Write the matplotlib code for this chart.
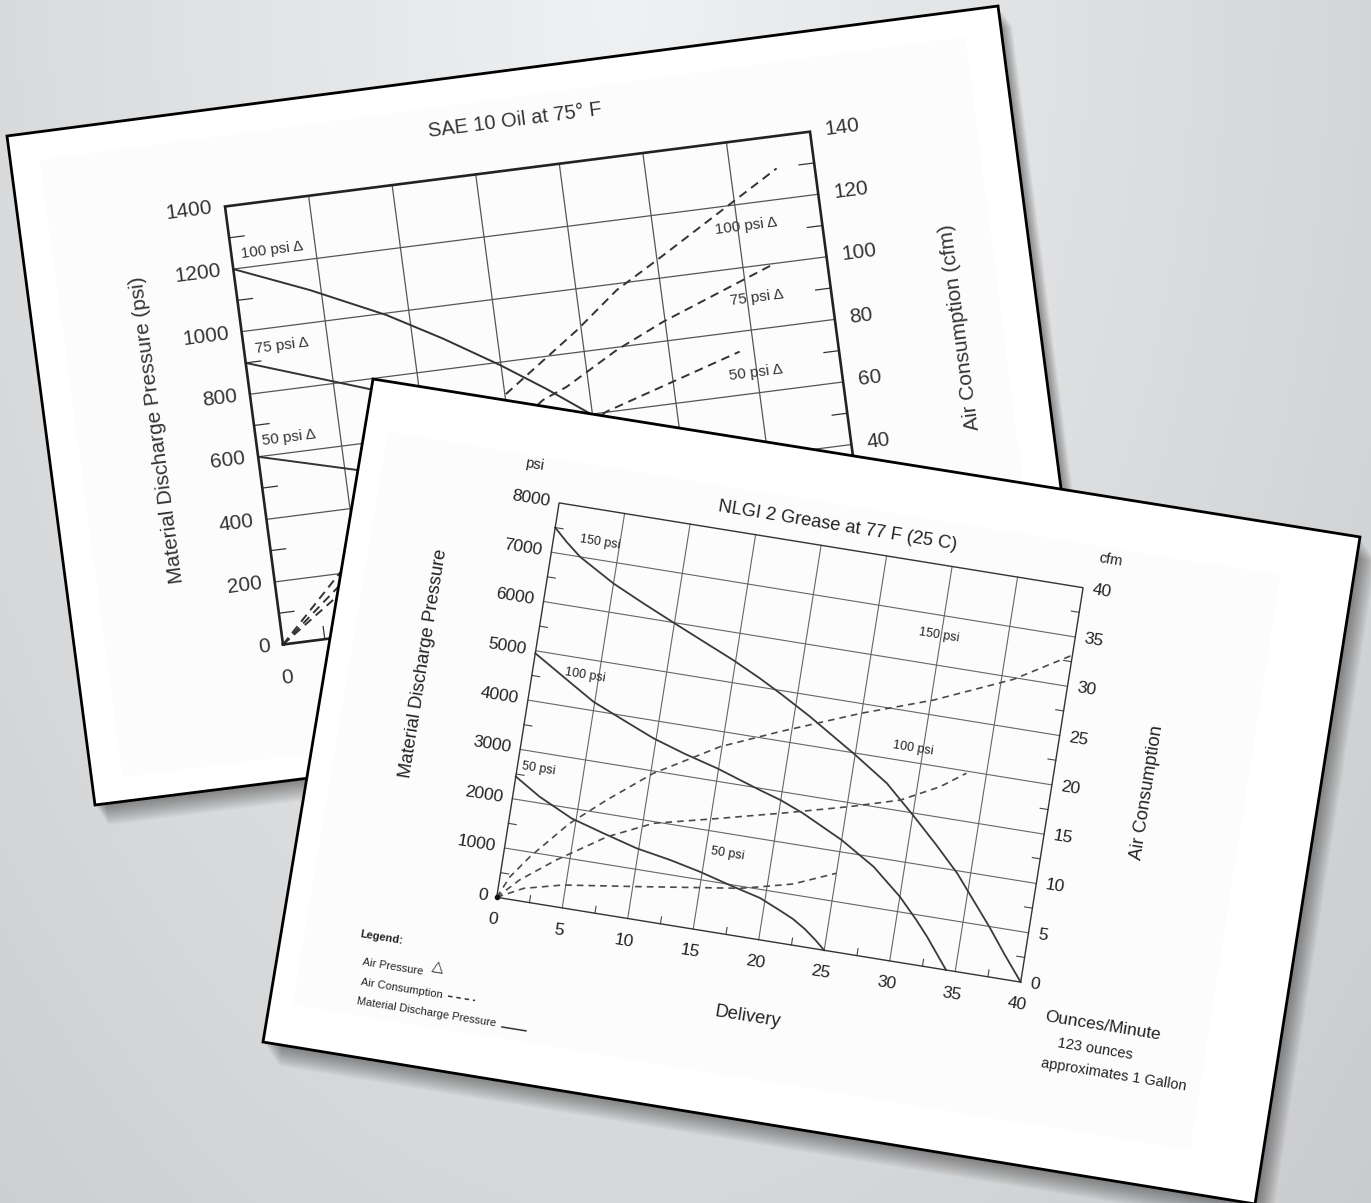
import numpy as np
import matplotlib

matplotlib.use('Agg')

import matplotlib.pyplot as plt
from matplotlib.patches import Polygon
from matplotlib.transforms import Affine2D

plt.rcParams['font.family'] = ['Liberation Sans', 'DejaVu Sans']

W, H = 1371, 1203

# ---- back sheet: SAE 10 Oil at 75° F  (left axis psi, right axis cfm = psi / 10)
oil_x_ticks = [0, 1, 2, 3, 4, 5, 6, 7]
oil_x_labels = ['0']
oil_psi_ticks = [0, 200, 400, 600, 800, 1000, 1200, 1400]
oil_cfm_ticks = [0, 20, 40, 60, 80, 100, 120, 140]

oil_mdp_100_x = [0, 0.87, 1.73, 2.36, 2.99, 3.5, 3.97]
oil_mdp_100_y = [1200, 1103, 994, 897, 791, 697, 603]
oil_mdp_75_x = [0, 1.46]
oil_mdp_75_y = [900, 764]
oil_mdp_50_x = [0, 1.14]
oil_mdp_50_y = [600, 519]

oil_air_100_x = [0, 0.78, 3.0, 3.95, 4.48, 5.0, 6.55]
oil_air_100_y = [0, 202, 695, 870, 980, 1058, 1298]
oil_air_75_x = [0, 0.74, 3.44, 3.74, 4.39, 4.98, 6.34]
oil_air_75_y = [0, 159, 664, 696, 792, 862, 996]
oil_air_50_x = [0, 0.66, 4.17, 5.83]
oil_air_50_y = [0, 120, 602, 737]

# ---- front sheet: NLGI 2 Grease at 77 F (25 C)  (left axis psi, right axis cfm = psi / 200)
grease_x_ticks = [0, 5, 10, 15, 20, 25, 30, 35, 40]
grease_psi_ticks = [0, 1000, 2000, 3000, 4000, 5000, 6000, 7000, 8000]
grease_cfm_ticks = [0, 5, 10, 15, 20, 25, 30, 35, 40]

grease_mdp_150_x = [0, 1.0, 2.2, 5, 7.45, 10, 12.6, 14.8, 17, 18.7, 21.2, 25, 27.7, 30, 32.1, 34, 35.5, 37, 38.5, 40]
grease_mdp_150_y = [7500, 7257, 7000, 6580, 6284, 5990, 5696, 5450, 5174, 4941, 4575, 3966, 3503, 2961, 2443, 1947, 1472, 998, 486, 0]
grease_mdp_100_x = [0, 2.36, 4.9, 7.33, 9.8, 12.3, 14.9, 18.3, 20, 21.8, 25, 27.7, 30, 31.5, 32.5, 34.3]
grease_mdp_100_y = [4950, 4576, 4177, 3912, 3646, 3440, 3256, 2965, 2830, 2643, 2237, 1810, 1303, 895, 597, 0]
grease_mdp_50_x = [0, 2, 4.65, 7.2, 9.84, 12.5, 14.8, 17.5, 19.6, 21.2, 22.3, 23.3, 24.2, 25]
grease_mdp_50_y = [2450, 2128, 1800, 1607, 1417, 1292, 1157, 967, 830, 650, 520, 360, 180, 0]

grease_air_150_x = [0, 0.75, 2, 4.5, 7.04, 10.2, 14.85, 19.1, 24.9, 30.2, 35.9, 40]
grease_air_150_y = [0, 450, 910, 1680, 2276, 2953, 3693, 4180, 4800, 5300, 5965, 6632]
grease_air_100_x = [0, 1.5, 4, 7.5, 10.8, 15.7, 18.6, 20.1, 25.2, 28.9, 31.7, 33.5]
grease_air_100_y = [0, 417, 930, 1550, 1965, 2277, 2470, 2567, 2923, 3215, 3606, 3957]
grease_air_50_x = [0, 1.9, 4.8, 10.5, 18, 19.5, 21.9, 25]
grease_air_50_y = [0, 263, 456, 668, 957, 1052, 1212, 1563]

# sheet outlines in picture pixels
back_sheet = [(7, 136), (998, 6), (1086, 680), (95, 805)]
back_inner = [(40, 160), (965, 37), (1046, 661), (123, 777)]
front_sheet = [(373, 379), (1360, 537), (1255, 1204), (263, 1042)]
front_inner = [(388, 432), (1280, 575), (1190, 1150), (293, 1005)]

fig = plt.figure(figsize=(W / 100, H / 100), dpi=100)
ax = fig.add_axes([0, 0, 1, 1])
ax.set_autoscale_on(False)
ax.set_xlim(0, W)
ax.set_ylim(H, 0)
ax.axis('off')

# grey studio backdrop
yy, xx = np.mgrid[0:H:4, 0:W:4]
dist = np.sqrt(((xx - 620) / 820.0) ** 2 + (yy / 1400.0) ** 2)
shade = np.clip(241 - 30 * dist, 200, 245) / 255.0
backdrop = np.clip(np.dstack([shade - 0.004, shade, shade + 0.006]), 0, 1)
ax.imshow(backdrop, extent=(0, W, H, 0), zorder=0, interpolation='bilinear', aspect='auto')


def sheet(corners, inner, shadow, z):
    pts = np.array(corners, float)
    for t in np.linspace(1.0, 0.08, 14):
        ax.add_patch(Polygon(pts + [shadow[0] * t, shadow[1] * t], closed=True,
                             facecolor='black', edgecolor='none', alpha=0.03, zorder=z))
    ax.add_patch(Polygon(pts, closed=True, facecolor='white', edgecolor='none', zorder=z + 0.1))
    ax.add_patch(Polygon(inner, closed=True, facecolor='#fcfcfc', edgecolor='none', zorder=z + 0.2))
    ax.add_patch(Polygon(pts, closed=True, facecolor='none', edgecolor='black', lw=2.0,
                         joinstyle='miter', zorder=z + 0.3))


def chart_transform(origin, ex, ey):
    m = np.array([[ex[0], ey[0], origin[0]],
                  [ex[1], ey[1], origin[1]],
                  [0.0, 0.0, 1.0]])
    return Affine2D(m) + ax.transData


def put(tr, x, y, s, z, **kw):
    ax.text(x, y, s, transform=tr, transform_rotates_text=True, rotation_mode='anchor', zorder=z, **kw)


# ================= back sheet =================
sheet(back_sheet, back_inner, (14, 20), 1)
tr = chart_transform((283, 644.5), (83.57, -10.69), (-0.04143, -0.31286))
zb = 3
xmax, ymax = oil_x_ticks[-1], oil_psi_ticks[-1]
for xv in oil_x_ticks[1:-1]:
    ax.plot([xv, xv], [0, ymax], transform=tr, color='#555555', lw=0.9, zorder=zb)
for yv in oil_psi_ticks[1:-1]:
    ax.plot([0, xmax], [yv, yv], transform=tr, color='#555555', lw=0.9, zorder=zb)
ax.plot([0, xmax, xmax, 0, 0], [0, 0, ymax, ymax, 0], transform=tr, color='#222222',
        lw=1.9, solid_joinstyle='miter', zorder=zb + 0.2)
for yv in oil_psi_ticks[:-1]:
    ax.plot([0, 0.18], [yv + 100, yv + 100], transform=tr, color='#333333', lw=0.9, zorder=zb)
    ax.plot([xmax, xmax - 0.18], [yv + 100, yv + 100], transform=tr, color='#333333', lw=0.9, zorder=zb)
for xv in oil_x_ticks[:-1]:
    ax.plot([xv + 0.5, xv + 0.5], [0, 40], transform=tr, color='#333333', lw=0.9, zorder=zb)

for xs, ys in [(oil_mdp_100_x, oil_mdp_100_y), (oil_mdp_75_x, oil_mdp_75_y), (oil_mdp_50_x, oil_mdp_50_y)]:
    ax.plot(xs, ys, transform=tr, color='#333333', lw=1.4, zorder=zb + 0.1)
for xs, ys in [(oil_air_100_x, oil_air_100_y), (oil_air_75_x, oil_air_75_y), (oil_air_50_x, oil_air_50_y)]:
    ax.plot(xs, ys, transform=tr, color='#333333', lw=1.4, dashes=(4.5, 3), zorder=zb + 0.1)

tc = '#333333'
for v in oil_psi_ticks:
    put(tr, -0.15, v, str(v), zb + 0.5, ha='right', va='center', fontsize=15, color=tc)
for v in oil_cfm_ticks:
    put(tr, 7.18, v * 10, str(v), zb + 0.5, ha='left', va='center', fontsize=15, color=tc)
for i, s in enumerate(oil_x_labels):
    put(tr, oil_x_ticks[i], -106, s, zb + 0.5, ha='center', va='center', fontsize=15, color=tc)
put(tr, 3.55, 1555, 'SAE 10 Oil at 75° F', zb + 0.5, ha='center', va='center', fontsize=14.5, color=tc)
put(tr, -1.15, 725, 'Material Discharge Pressure (psi)', zb + 0.5, rotation=90,
    ha='center', va='center', fontsize=15, color=tc)
put(tr, 8.46, 726, 'Air Consumption (cfm)', zb + 0.5, rotation=90,
    ha='center', va='center', fontsize=15, color=tc)
for x, y, s in [(0.485, 1244, '100 psi Δ'), (0.454, 939, '75 psi Δ'), (0.393, 647, '50 psi Δ'),
                (6.1, 1129, '100 psi Δ'), (6.12, 899, '75 psi Δ'), (5.99, 663, '50 psi Δ')]:
    put(tr, x, y, s, zb + 0.5, ha='center', va='center', fontsize=11, color=tc)

# ================= front sheet =================
sheet(front_sheet, front_inner, (16, 24), 4)
tr = chart_transform((496.7, 897.3), (13.1, 2.12), (0.0078, -0.0493))
zf = 6
xmax, ymax = grease_x_ticks[-1], grease_psi_ticks[-1]
for xv in grease_x_ticks[1:-1]:
    ax.plot([xv, xv], [0, ymax], transform=tr, color='#666666', lw=0.8, zorder=zf)
for yv in grease_psi_ticks[1:-1]:
    ax.plot([0, xmax], [yv, yv], transform=tr, color='#666666', lw=0.8, zorder=zf)
ax.plot([0, xmax, xmax, 0, 0], [0, 0, ymax, ymax, 0], transform=tr, color='#333333',
        lw=1.0, solid_joinstyle='miter', zorder=zf + 0.2)
for yv in grease_psi_ticks[:-1]:
    ax.plot([0, 0.6], [yv + 500, yv + 500], transform=tr, color='#444444', lw=0.8, zorder=zf)
    ax.plot([xmax, xmax - 0.6], [yv + 500, yv + 500], transform=tr, color='#444444', lw=0.8, zorder=zf)
for xv in grease_x_ticks[:-1]:
    ax.plot([xv + 2.5, xv + 2.5], [0, 140], transform=tr, color='#444444', lw=0.8, zorder=zf)
ax.plot([0], [0], 'o', ms=3, color='#111111', transform=tr, zorder=zf + 0.3)

for xs, ys in [(grease_mdp_150_x, grease_mdp_150_y), (grease_mdp_100_x, grease_mdp_100_y),
               (grease_mdp_50_x, grease_mdp_50_y)]:
    ax.plot(xs, ys, transform=tr, color='#3a3a3a', lw=1.3, zorder=zf + 0.1)
for xs, ys in [(grease_air_150_x, grease_air_150_y), (grease_air_100_x, grease_air_100_y),
               (grease_air_50_x, grease_air_50_y)]:
    ax.plot(xs, ys, transform=tr, color='#4a4a4a', lw=1.2, dashes=(4, 3), zorder=zf + 0.1)

tc = '#222222'
for v in grease_psi_ticks:
    put(tr, -0.7, v, str(v), zf + 0.5, ha='right', va='center', fontsize=12.5, color=tc)
for v in grease_cfm_ticks:
    put(tr, 40.7, v * 200, str(v), zf + 0.5, ha='left', va='center', fontsize=12.5, color=tc)
for v in grease_x_ticks:
    put(tr, v, -450, str(v), zf + 0.5, ha='center', va='center', fontsize=12.5, color=tc)
put(tr, -2.3, 8670, 'psi', zf + 0.5, ha='center', va='center', fontsize=10.5, color=tc)
put(tr, 41.7, 8630, 'cfm', zf + 0.5, ha='center', va='center', fontsize=10.5, color=tc)
put(tr, 21, 8430, 'NLGI 2 Grease at 77 F (25 C)', zf + 0.5, ha='center', va='center', fontsize=13.2, color=tc)
put(tr, -8.2, 4400, 'Material Discharge Pressure', zf + 0.5, rotation=90,
    ha='center', va='center', fontsize=13.2, color=tc)
put(tr, 47.2, 4150, 'Air Consumption', zf + 0.5, rotation=90,
    ha='center', va='center', fontsize=13.2, color=tc)
put(tr, 20.1, -1563, 'Delivery', zf + 0.5, ha='center', va='center', fontsize=13.2, color=tc)
put(tr, 42.2, -612, 'Ounces/Minute', zf + 0.5, ha='left', va='center', fontsize=12.5, color=tc)
put(tr, 43.5, -1085, '123 ounces', zf + 0.5, ha='left', va='center', fontsize=10.5, color=tc)
put(tr, 42.5, -1532, 'approximates 1 Gallon', zf + 0.5, ha='left', va='center', fontsize=10.5, color=tc)
for x, y, s in [(3.5, 7360, '150 psi'), (3.95, 4680, '100 psi'), (1.6, 2685, '50 psi'),
                (29.8, 6600, '150 psi'), (29.25, 4280, '100 psi'), (16.7, 1610, '50 psi')]:
    put(tr, x, y, s, zf + 0.5, ha='center', va='center', fontsize=9, color=tc)

# legend block
put(tr, -9.74, -1163, 'Legend:', zf + 0.5, ha='left', va='center', fontsize=8, fontweight='bold', color=tc)
put(tr, -9.2, -1707, 'Air Pressure', zf + 0.5, ha='left', va='center', fontsize=8, color=tc)
put(tr, -3.6, -1570, '△', zf + 0.5, ha='center', va='center', fontsize=11, color=tc)
put(tr, -9.1, -2110, 'Air Consumption', zf + 0.5, ha='left', va='center', fontsize=8, color=tc)
ax.plot([-2.46, -0.4], [-2110, -2110], transform=tr, color='#333333', lw=1.1, dashes=(3, 2.5), zorder=zf)
put(tr, -9.2, -2500, 'Material Discharge Pressure', zf + 0.5, ha='left', va='center', fontsize=8, color=tc)
ax.plot([1.92, 3.75], [-2548, -2548], transform=tr, color='#333333', lw=1.1, zorder=zf)

ax.set_xlim(0, W)
ax.set_ylim(H, 0)
fig.savefig('out.png', dpi=100)
